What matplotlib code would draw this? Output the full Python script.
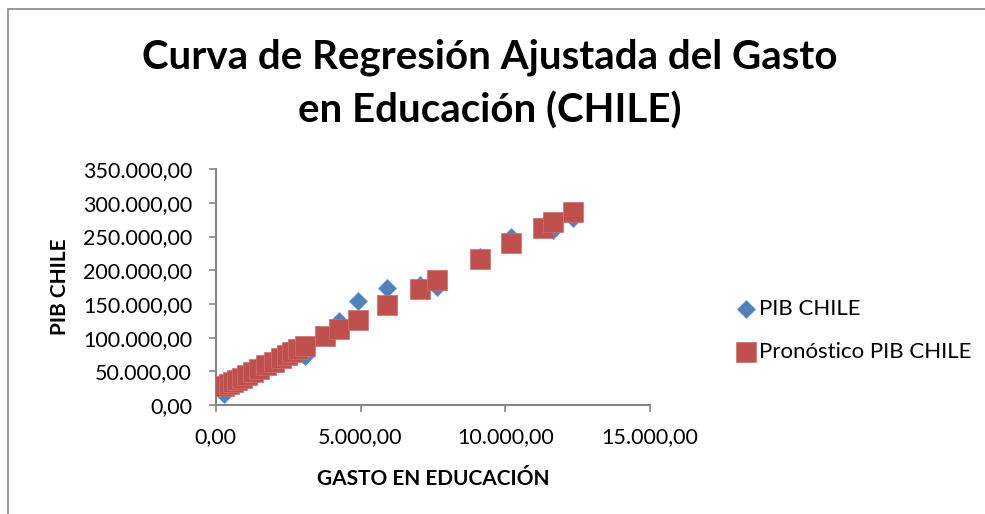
import numpy as np
import matplotlib.pyplot as plt
from matplotlib.ticker import FuncFormatter
from matplotlib.patches import Rectangle

plt.rcParams['font.family'] = ['Lato', 'DejaVu Sans']

# gasto en educacion (eje x)
gasto = [300, 450, 600, 750, 900, 1080, 1300, 1480, 1750, 2000, 2250, 2450, 2650,
         2850, 3080, 3780, 4260, 4920, 5900, 7050, 7650, 9130, 10200, 11300, 11650, 12350]

# PIB observado
pib = [17000, 26000, 30000, 36000, 40000, 44000, 48000, 54000, 64000, 66000, 74000,
       80000, 82000, 84000, 72000, 102000, 124000, 155000, 173500, 178500, 175000,
       219000, 250000, 265000, 259500, 278000]

# PIB pronosticado por la regresion
pronostico = [27920, 31130, 34340, 37550, 40760, 44610, 49320, 53170, 58950, 64300,
              69650, 73930, 78210, 82490, 87410, 102390, 112660, 126790, 147760,
              172370, 185210, 216880, 239780, 263320, 270810, 285790]

xticks = [0, 5000, 10000, 15000]
yticks = [0, 50000, 100000, 150000, 200000, 250000, 300000, 350000]

titulo = 'Curva de Regresión Ajustada del Gasto\nen Educación (CHILE)'


def formato_es(v, pos=None):
    s = '{:,.2f}'.format(v)
    return s.replace(',', '#').replace('.', ',').replace('#', '.')


fig = plt.figure(figsize=(9.85, 5.14), dpi=100)
ax = fig.add_axes([0.219, 0.212, 0.441, 0.459])

ax.scatter(gasto, pib, marker='D', s=9.2 ** 2, color='#4F81BD',
           edgecolors='#6A95CC', linewidths=0.5, label='PIB CHILE', zorder=3)
ax.scatter(gasto, pronostico, marker='s', s=13.8 ** 2, color='#C0504D',
           edgecolors='#CE6F6C', linewidths=0.5, label='Pronóstico PIB CHILE', zorder=4)

ax.set_xlim(0, 15000)
ax.set_ylim(0, 350000)
ax.set_xticks(xticks)
ax.set_yticks(yticks)
ax.xaxis.set_major_formatter(FuncFormatter(formato_es))
ax.yaxis.set_major_formatter(FuncFormatter(formato_es))

for side in ['top', 'right']:
    ax.spines[side].set_visible(False)
for side in ['left', 'bottom']:
    ax.spines[side].set_color('#868686')
    ax.spines[side].set_linewidth(1.5)
ax.tick_params(axis='both', colors='#868686', labelcolor='black', labelsize=15.5,
               length=5, width=1.2, direction='out')
ax.tick_params(axis='x', pad=11)
ax.tick_params(axis='y', pad=12)

ax.set_xlabel('GASTO EN EDUCACIÓN', fontsize=15, fontweight='bold', labelpad=16)
ax.set_ylabel('PIB CHILE', fontsize=15, fontweight='bold', labelpad=9)

fig.text(0.497, 0.836, titulo, ha='center', va='center', fontsize=29,
         fontweight='bold', linespacing=1.5)

ax.legend(loc='center left', bbox_to_anchor=(0.737, 0.357), bbox_transform=fig.transFigure,
          frameon=False, fontsize=16, handletextpad=0.1, labelspacing=1.05,
          borderaxespad=0, handlelength=1.0)

# marco del grafico
fig.patches.append(Rectangle((8 / 985, -0.1), 1.2, (505 / 514) + 0.1,
                             transform=fig.transFigure, fill=False,
                             edgecolor='#868686', linewidth=1.2))

fig.savefig('out.png', dpi=100)
